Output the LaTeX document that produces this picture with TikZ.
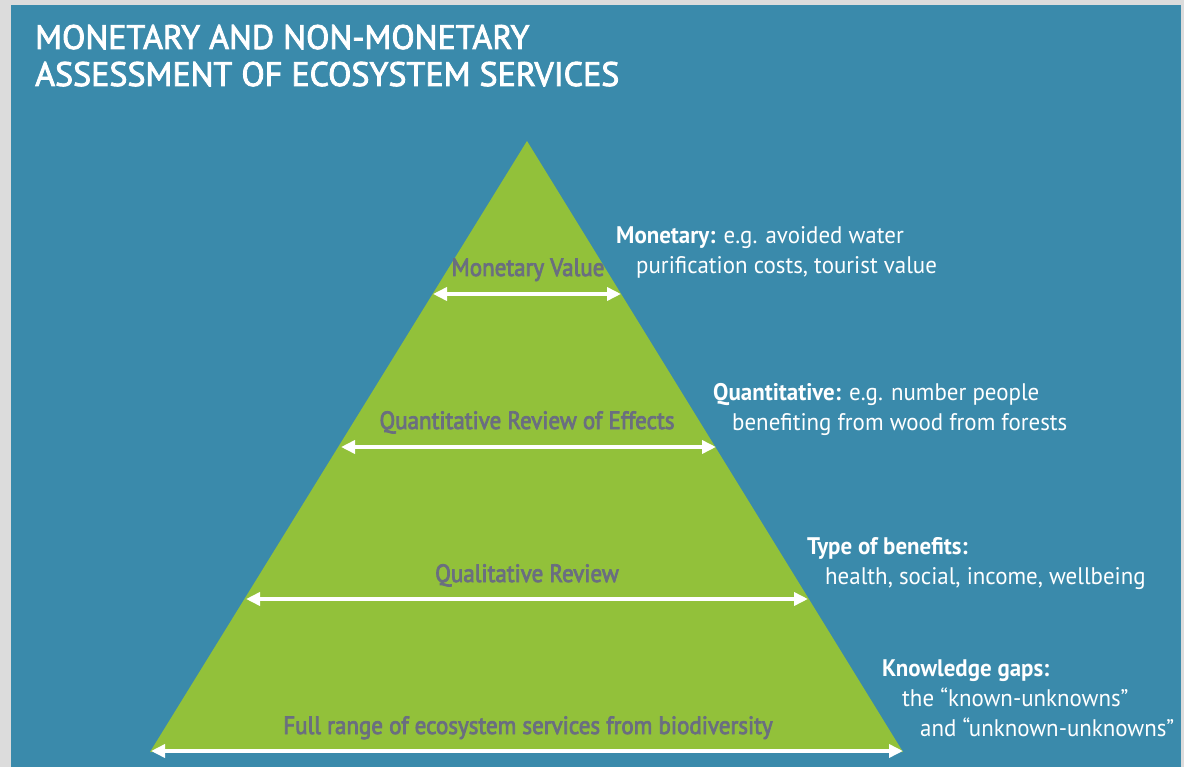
\documentclass[tikz,border=0pt]{standalone}
\usepackage{fontspec}
\setmainfont{PT Sans}
\newfontfamily\titlefont[FakeStretch=1.0,FakeBold=2.5]{PT Sans}
\newfontfamily\bodyfont[FakeStretch=0.955]{PT Sans}
\newfontfamily\levelfont[FakeStretch=0.92,FakeBold=3]{PT Sans}
\usetikzlibrary{arrows.meta}
\definecolor{bgblue}{RGB}{58,138,171}
\definecolor{pyrgreen}{RGB}{146,193,58}
\definecolor{lblgray}{RGB}{106,110,128}
\definecolor{frame}{RGB}{220,220,220}
\begin{document}
\begin{tikzpicture}[x=1pt,y=-1pt,
  level/.style={font=\levelfont\fontsize{25}{28}\selectfont, text=lblgray, anchor=base, inner sep=0pt},
  note/.style={font=\bodyfont\fontsize{24}{30}\selectfont, text=white, anchor=base west, inner sep=0pt},
  span/.style={draw=white, line width=3.5pt, {Triangle[length=14pt,width=13pt]}-{Triangle[length=14pt,width=13pt]}},
  titletext/.style={font=\titlefont\fontsize{34}{40}\selectfont, text=white, anchor=base west, inner sep=0pt}
]
\useasboundingbox (0,0) rectangle (1184,767);
\fill[frame] (0,0) rectangle (1184,767);
\fill[bgblue] (11,5) rectangle (1181,767);

% title
\node[titletext] (t1) at (35,49) {MONETARY AND NON-MONETARY};
\node[titletext] (t2) at (35,86) {ASSESSMENT OF ECOSYSTEM SERVICES};

% pyramid
\coordinate (apex) at (527,141);
\coordinate (bl) at (150,752);
\coordinate (br) at (903,752);
\fill[pyrgreen] (apex) -- (bl) -- (br) -- cycle;

% span end points
\coordinate (m1) at (433,294);  \coordinate (m2) at (621,294);
\coordinate (q1) at (341,447);  \coordinate (q2) at (716,447);
\coordinate (l1) at (246,599);  \coordinate (l2) at (808,599);
\coordinate (f1) at (151,751);  \coordinate (f2) at (903,751);

\draw[span] (m1) -- (m2);
\draw[span] (q1) -- (q2);
\draw[span] (l1) -- (l2);
\draw[span] (f1) -- (f2);

% level labels
\node[level] (lm) at (528,276) {Monetary Value};
\node[level] (lq) at (527,429) {Quantitative Review of Effects};
\node[level] (ll) at (527,582) {Qualitative Review};
\node[level] (lf) at (528,734) {Full range of ecosystem services from biodiversity};

% notes
\node[note] (n1a) at (616,244) {\textbf{Monetary:} e.g. avoided water};
\node[note] (n1b) at (636,274) {purification costs, tourist value};
\node[note] (n2a) at (713,401) {\textbf{Quantitative:} e.g. number people};
\node[note] (n2b) at (732,431) {benefiting from wood from forests};
\node[note] (n3a) at (807,554) {\textbf{Type of benefits:}};
\node[note] (n3b) at (825,584) {health, social, income, wellbeing};
\node[note] (n4a) at (882,676) {\textbf{Knowledge gaps:}};
\node[note] (n4b) at (902,706) {the “known-unknowns”};
\node[note] (n4c) at (920,736) {and “unknown-unknowns”};
\end{tikzpicture}
\end{document}
